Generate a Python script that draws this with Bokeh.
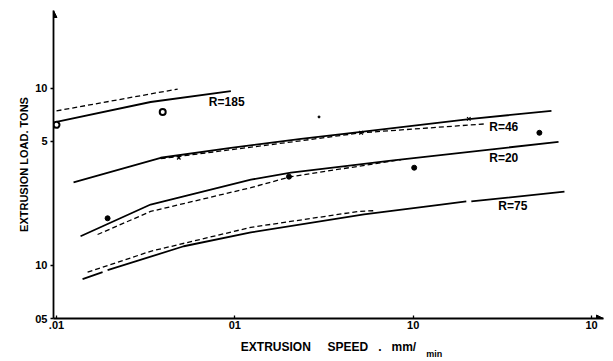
from bokeh.plotting import figure
from bokeh.models import FixedTicker, Label, Arrow, NormalHead, Title, LogAxis
from bokeh.embed import file_html
from bokeh.resources import INLINE

# ---------------- data ----------------
x_ticks = [0.01, 0.1, 1, 10]
x_tick_labels = [".01", "01", "10", "10"]
y_ticks = [0.5, 1, 5, 10]
y_tick_labels = ["05", "10", "5", "10"]

# R = 185
r185_solid_speed = [0.01, 0.0337, 0.095]
r185_solid_load = [6.44, 8.34, 9.62]
r185_dash_speed = [0.01, 0.0478]
r185_dash_load = [7.43, 9.87]
r185_obs_speed = [0.01, 0.0394]
r185_obs_load = [6.20, 7.33]

# R = 46
r46_solid_speed = [0.01246, 0.0384, 0.095, 0.2349, 0.5105, 2.118, 5.96]
r46_solid_load = [2.93, 4.04, 4.60, 5.17, 5.66, 6.70, 7.43]
r46_dash_speed = [0.0384, 0.2349, 0.5105, 2.57]
r46_dash_load = [3.99, 5.04, 5.59, 6.28]
r46_mark_speed = [0.0485, 0.5105, 2.05]
r46_mark_load = [4.04, 5.59, 6.70]
r46_obs_speed = [5.10]
r46_obs_load = [5.59]

# R = 20
r20_solid_speed = [0.01364, 0.0337, 0.123, 0.2063, 0.752, 6.53]
r20_solid_load = [1.456, 2.20, 3.04, 3.33, 3.89, 4.97]
r20_dash_speed = [0.017, 0.0337, 0.123, 0.2063, 0.856]
r20_dash_load = [1.49, 2.01, 2.74, 3.16, 3.94]
r20_obs_speed = [0.01934, 0.2011, 1.013]
r20_obs_load = [1.84, 3.16, 3.55]

# R = 75 (solid trace has two small breaks)
r75_solid_speed = [0.014, 0.01813, float("nan"), 0.01934, 0.0517, 0.123, 0.530, 1.436, 1.985,
                   float("nan"), 2.118, 7.05]
r75_solid_load = [0.834, 0.913, float("nan"), 0.937, 1.279, 1.532, 1.934, 2.20, 2.29,
                  float("nan"), 2.29, 2.60]
r75_dash_speed = [0.01494, 0.0337, 0.123, 0.491, 0.60]
r75_dash_load = [0.913, 1.198, 1.635, 2.01, 2.03]

stray_speed = [0.2965]
stray_load = [6.87]

# ---------------- figure ----------------
FONT = "Liberation Sans"
NB = "\u00a0"
X_MIN, X_MAX = 0.00962, 11.67
Y_MIN, Y_MAX = 0.5, 27.4

p = figure(width=613, height=361, x_axis_type="log", y_axis_type="log",
           x_range=(X_MIN, X_MAX), y_range=(Y_MIN, Y_MAX),
           output_backend="svg", toolbar_location=None,
           min_border_left=53, min_border_right=10, min_border_top=10, min_border_bottom=43)
p.outline_line_color = None
p.xgrid.visible = False
p.ygrid.visible = False
p.background_fill_color = "white"
p.border_fill_color = "white"

for ax, ticks, labels in ((p.xaxis[0], x_ticks, x_tick_labels), (p.yaxis[0], y_ticks, y_tick_labels)):
    ax.ticker = FixedTicker(ticks=ticks, minor_ticks=[])
    ax.major_label_overrides = {t: l for t, l in zip(ticks, labels)}
    ax.axis_line_width = 1.8
    ax.axis_line_color = "black"
    ax.major_tick_line_color = "black"
    ax.major_tick_line_width = 1.3
    ax.minor_tick_line_color = None
    ax.major_label_text_font = FONT
    ax.major_label_text_font_style = "bold"
    ax.major_label_text_font_size = "11px"
    ax.major_label_text_color = "black"

p.xaxis.major_tick_in = 3
p.xaxis.major_tick_out = 0
p.xaxis.major_label_standoff = 2
p.yaxis.major_tick_in = 0
p.yaxis.major_tick_out = 3
p.yaxis.major_label_standoff = 3

# x title as the axis label (centred under the frame, as in the reference)
xa = p.xaxis[0]
xa.axis_label = "EXTRUSION" + NB * 5 + "SPEED" + NB * 3 + "." + NB * 3 + "mm/"
xa.axis_label_standoff = 8
xa.axis_label_text_font = FONT
xa.axis_label_text_font_style = "bold"
xa.axis_label_text_font_size = "12px"
xa.axis_label_text_color = "black"

# second, line-less axis below that carries only the lowered "min" of mm/min
MIN_POS = 1.312
unit_axis = LogAxis(ticker=FixedTicker(ticks=[MIN_POS], minor_ticks=[]),
                    major_label_overrides={MIN_POS: "min"},
                    axis_line_color=None, major_tick_line_color=None, minor_tick_line_color=None,
                    major_tick_in=0, major_tick_out=0, major_label_standoff=-8,
                    major_label_text_font=FONT, major_label_text_font_style="bold",
                    major_label_text_font_size="9px", major_label_text_color="black")
p.add_layout(unit_axis, "below")

SW = 1.8
DW = 1.3
DASH = "5 3"
p.line(r185_solid_speed, r185_solid_load, line_color="black", line_width=SW)
p.line(r185_dash_speed, r185_dash_load, line_color="black", line_width=DW, line_dash=DASH)
p.scatter(r185_obs_speed, r185_obs_load, marker="circle", size=6, fill_color="white",
          line_color="black", line_width=2)

p.line(r46_solid_speed, r46_solid_load, line_color="black", line_width=SW)
p.line(r46_dash_speed, r46_dash_load, line_color="black", line_width=DW, line_dash=DASH)
p.scatter(r46_mark_speed, r46_mark_load, marker="x", size=5, line_color="black", line_width=1.2)
p.scatter(r46_obs_speed, r46_obs_load, marker="circle", size=5, fill_color="black", line_color="black")

p.line(r20_solid_speed, r20_solid_load, line_color="black", line_width=SW)
p.line(r20_dash_speed, r20_dash_load, line_color="black", line_width=DW, line_dash=DASH)
p.scatter(r20_obs_speed, r20_obs_load, marker="circle", size=5, fill_color="black", line_color="black")

p.line(r75_solid_speed, r75_solid_load, line_color="black", line_width=SW)
p.line(r75_dash_speed, r75_dash_load, line_color="black", line_width=DW, line_dash=DASH)

p.scatter(stray_speed, stray_load, marker="circle", size=2, fill_color="black", line_color="black")

# curve labels
def curve_label(text, x, y):
    p.add_layout(Label(x=x, y=y, text=text, text_font=FONT, text_font_style="bold",
                       text_font_size="12px", text_align="left", text_baseline="middle",
                       text_color="black"))

curve_label("R=185", 0.0715, 8.34)
curve_label("R=46", 2.67, 6.04)
curve_label("R=20", 2.67, 4.04)
curve_label("R=75", 3.00, 2.145)

# y title (side-panel title, so it is not clipped by the frame)
p.add_layout(Title(text="EXTRUSION" + NB + "LOAD." + NB + "TONS", align="center", offset=53,
                   standoff=5, text_font=FONT, text_font_style="bold", text_font_size="11px",
                   text_color="black"), "left")

# arrow heads at the axis ends
p.add_layout(Arrow(end=NormalHead(size=7, fill_color="black", line_color="black"),
                   x_start=X_MIN, y_start=20, x_end=X_MIN, y_end=Y_MAX, line_alpha=0))
p.add_layout(Arrow(end=NormalHead(size=7, fill_color="black", line_color="black"),
                   x_start=10.5, y_start=Y_MIN, x_end=X_MAX, y_end=Y_MIN, line_alpha=0))

open("out.html", "w").write(file_html(p, INLINE))
